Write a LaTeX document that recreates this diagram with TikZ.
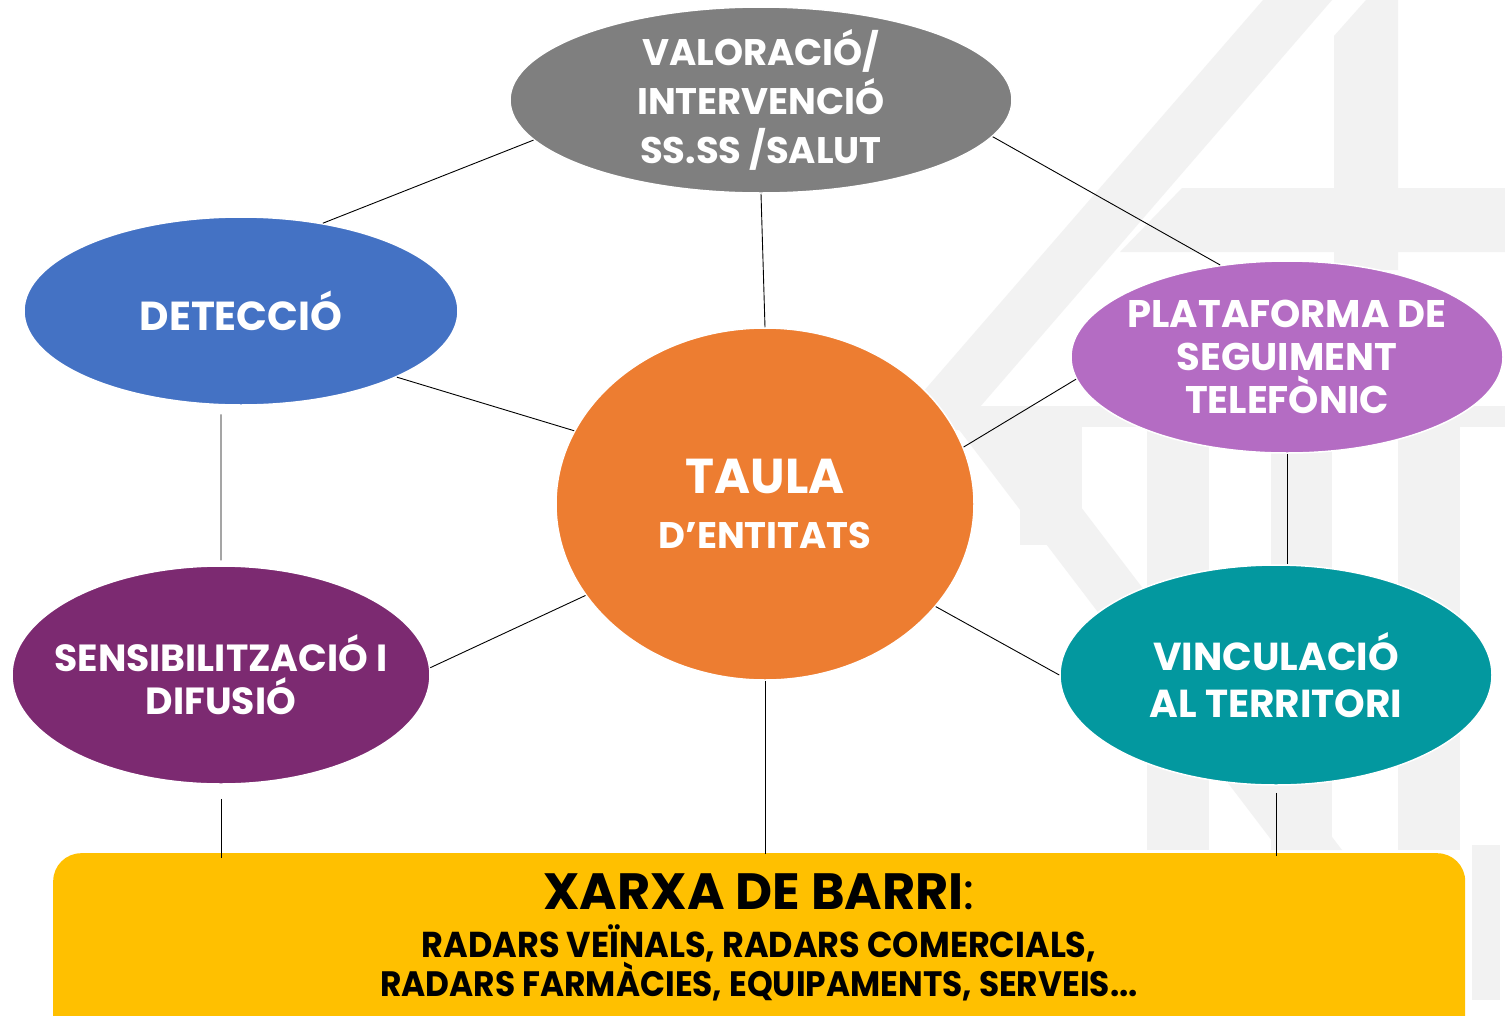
\documentclass[tikz,border=0pt]{standalone}
\usepackage{fontspec}
\setmainfont{Poppins}
\newfontfamily\condfont{Poppins}[FakeStretch=0.93]
\usetikzlibrary{shapes.geometric}
\definecolor{cgray}{HTML}{7F7F7F}
\definecolor{cblue}{HTML}{4472C4}
\definecolor{corange}{HTML}{ED7D31}
\definecolor{cpurple}{HTML}{B46CC3}
\definecolor{cteal}{HTML}{03989F}
\definecolor{cplum}{HTML}{7C2A71}
\definecolor{cyellow}{HTML}{FFC000}
\definecolor{wmgray}{HTML}{F2F2F2}
\begin{document}
\begin{tikzpicture}[x=1pt,y=-1pt,
  bubble/.style={ellipse, draw=white, line width=1.5pt, inner sep=-90pt, text=white, align=center},
  link/.style={draw=black, line width=0.9pt},
  wm/.style={fill=wmgray}]
\useasboundingbox (0,0) rectangle (1505,1015);
\fill[white] (0,0) rectangle (1505,1015);
% watermark
\fill[wm] (1263,0) -- (1332,0) -- (960,430) -- (890,430) -- cycle;
\fill[wm] (1334,36) -- (1366,0) -- (1398,0) -- (1398,270) -- (1334,270) -- cycle;
\fill[wm] (1182,188) -- (1505,188) -- (1505,252) -- (1120,252) -- cycle;
\fill[wm] (958,406) -- (1505,406) -- (1505,427) -- (958,427) -- cycle;
\fill[wm] (1020,427) rectangle (1082,545);
\fill[wm] (1147,427) rectangle (1209,850);
\fill[wm] (1271,427) rectangle (1332,850);
\fill[wm] (1398,427) rectangle (1460,850);
\fill[wm] (957,427) -- (1020,427) -- (1342,850) -- (1279,850) -- cycle;
\fill[wm] (1472,845) rectangle (1500,1000);
% bottom box
\node[fill=cyellow, rounded corners=28pt, minimum width=1412, minimum height=200, inner sep=0pt, anchor=north west] (xarxa) at (53,853) {};
\node[font=\bfseries\fontsize{51}{51}\selectfont, anchor=base, inner sep=0pt] (xtitle) at (759,909) {XARXA DE BARRI{\mdseries:}};
\node[font=\condfont\bfseries\fontsize{36}{36}\selectfont, anchor=base, inner sep=0pt] (xline1) at (759,957) {RADARS VEÏNALS, RADARS COMERCIALS,};
\node[font=\condfont\bfseries\fontsize{35.3}{36}\selectfont, anchor=base, inner sep=0pt] (xline2) at (759,996) {RADARS FARMÀCIES, EQUIPAMENTS, SERVEIS...};
% bubbles
\node[bubble, fill=cgray, minimum width=502, minimum height=186, font=\bfseries\fontsize{37}{49}\selectfont] (val) at (761,100) {VALORACIÓ/\\INTERVENCIÓ\\SS.SS /SALUT};
\node[bubble, fill=cblue, minimum width=434, minimum height=188, font=\bfseries\fontsize{40.5}{49}\selectfont] (det) at (241,311) {DETECCIÓ};
\node[bubble, fill=corange, minimum width=418, minimum height=352, font=\bfseries\fontsize{49}{55}\selectfont] (taula) at (765,504) {TAULA\\\fontsize{37}{56}\selectfont D’ENTITATS};
\node[bubble, fill=cpurple, minimum width=432, minimum height=192, font=\bfseries\fontsize{38.5}{43}\selectfont] (plat) at (1287,357) {PLATAFORMA DE\\SEGUIMENT\\TELEFÒNIC};
\node[bubble, fill=cteal, minimum width=432, minimum height=220, font=\bfseries\fontsize{39}{47}\selectfont] (vinc) at (1276,675) {VINCULACIÓ\\AL TERRITORI};
\node[bubble, fill=cplum, minimum width=418, minimum height=218, font=\bfseries\fontsize{37.8}{43}\selectfont] (sens) at (221,675) {SENSIBILITZACIÓ I\\DIFUSIÓ};
% connectors
\draw[link] (val.190) -- (det.47);
\draw[link] (val.south) -- (taula.north);
\draw[link] (val.-9.7) -- (plat.126.6);
\draw[link] (det.-23.7) -- (taula.159.4);
\draw[link, shorten <=9pt, shorten >=5pt] (det.258.6) -- (sens.north);
\draw[link] (taula.16.9) -- (plat.186.25);
\draw[link] (plat.south) -- (plat.south |- vinc.north);
\draw[link] (taula.-31.7) -- (vinc.west);
\draw[link] (taula.207.1) -- (sens.2.7);
\draw[link, shorten <=14pt, shorten >=-5pt] (sens.south) -- (sens.south |- xarxa.north);
\draw[link, shorten >=-1pt] (taula.south) -- (taula.south |- xarxa.north);
\draw[link, shorten <=7pt, shorten >=-3pt] (vinc.south) -- (vinc.south |- xarxa.north);
\end{tikzpicture}
\end{document}
